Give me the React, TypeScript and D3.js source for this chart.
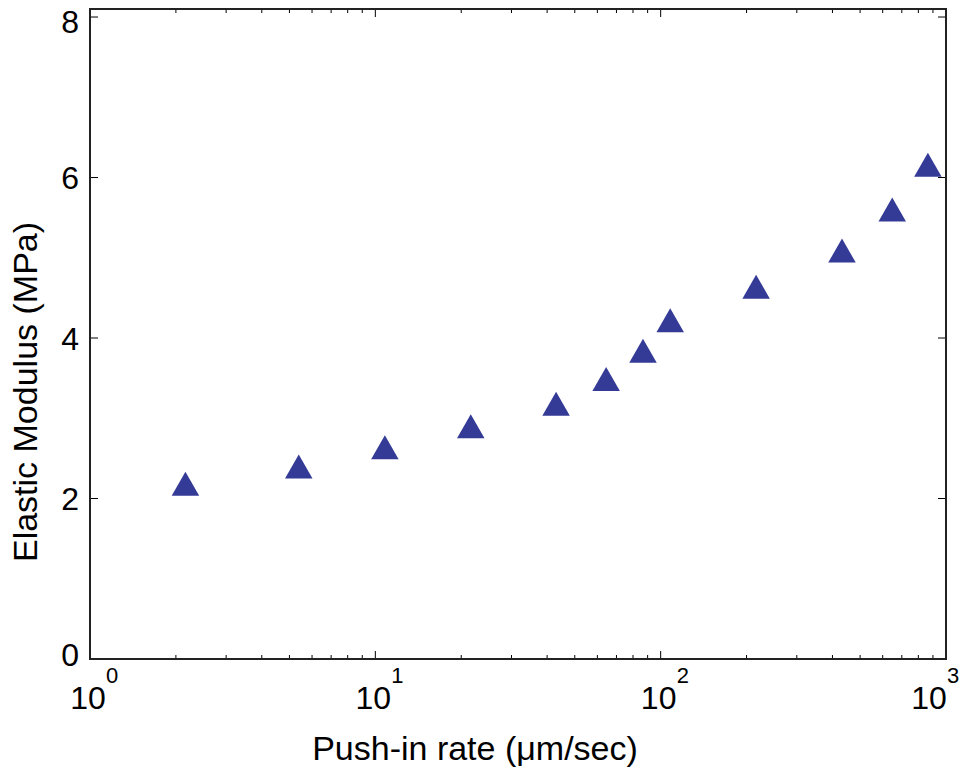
import React from "react";
import * as d3 from "d3";

const rates = [2.16, 5.39, 10.8, 21.6, 43, 64.4, 86.7, 108, 216, 432, 648, 864];
const moduli = [2.185, 2.4, 2.64, 2.9, 3.18, 3.49, 3.84, 4.22, 4.64, 5.09, 5.6, 6.16];
const yTicks = [0, 2, 4, 6, 8];
const xMajorExp = [0, 1, 2, 3];
const xLabel = "Push-in rate (μm/sec)";
const yLabel = "Elastic Modulus (MPa)";

const W = 967;
const H = 780;
const L = 90, R = 946, T = 9, B = 659;
const FONT = "'Liberation Sans', Arial, Helvetica, sans-serif";
const COLOR = "#343b96";

export default function App() {
  const x = d3.scaleLog().domain([1, 1000]).range([L, R]);
  const y = d3.scaleLinear().domain([0, 8.1]).range([B, T]);

  const minor: number[] = [];
  for (let e = 0; e < 3; e++) {
    for (let m = 2; m <= 9; m++) minor.push(m * Math.pow(10, e));
  }

  const tri = "M0,-12L13.75,12L-13.75,12Z";

  return (
    <svg width={W} height={H} style={{ position: "absolute", left: 0, top: 0, background: "#fff" }}>
      <rect x={0} y={0} width={W} height={H} fill="#fff" />
      {minor.map((v) => (
        <g key={"m" + v} stroke="#000" strokeWidth={1}>
          <line x1={x(v)} x2={x(v)} y1={B} y2={B - 4} />
          <line x1={x(v)} x2={x(v)} y1={T} y2={T + 4} />
        </g>
      ))}
      {xMajorExp.map((e) => {
        const px = x(Math.pow(10, e));
        const cx = Math.min(px - 2, W - 38);
        return (
          <g key={"x" + e}>
            <line x1={px} x2={px} y1={B} y2={B - 8} stroke="#000" strokeWidth={1} />
            <line x1={px} x2={px} y1={T} y2={T + 8} stroke="#000" strokeWidth={1} />
            <text x={cx} y={709} textAnchor="middle" fontFamily={FONT} fontSize={32} fill="#000">
              10
            </text>
            <text x={cx + 18} y={683} textAnchor="start" fontFamily={FONT} fontSize={22} fill="#000">
              {e}
            </text>
          </g>
        );
      })}
      {yTicks.map((v) => (
        <g key={"y" + v}>
          <line x1={L} x2={L + 8} y1={y(v)} y2={y(v)} stroke="#000" strokeWidth={1} />
          <line x1={R} x2={R - 8} y1={y(v)} y2={y(v)} stroke="#000" strokeWidth={1} />
          <text
            x={79}
            y={y(v) + 11.5 + (v === 8 ? 4 : v === 0 ? -5 : 0)}
            textAnchor="end"
            fontFamily={FONT}
            fontSize={32}
            fill="#000"
          >
            {v}
          </text>
        </g>
      ))}
      <rect x={L} y={T} width={R - L} height={B - T} fill="none" stroke="#222" strokeWidth={2} />
      {rates.map((r, i) => (
        <path key={"p" + i} d={tri} transform={`translate(${x(r)},${y(moduli[i])})`} fill={COLOR} />
      ))}
      <text x={(L + R) / 2 - 43} y={760} textAnchor="middle" fontFamily={FONT} fontSize={34} fill="#000">
        {xLabel}
      </text>
      <text
        transform={`translate(37,${392}) rotate(-90)`}
        textAnchor="middle"
        fontFamily={FONT}
        fontSize={34}
        fill="#000"
      >
        {yLabel}
      </text>
    </svg>
  );
}
